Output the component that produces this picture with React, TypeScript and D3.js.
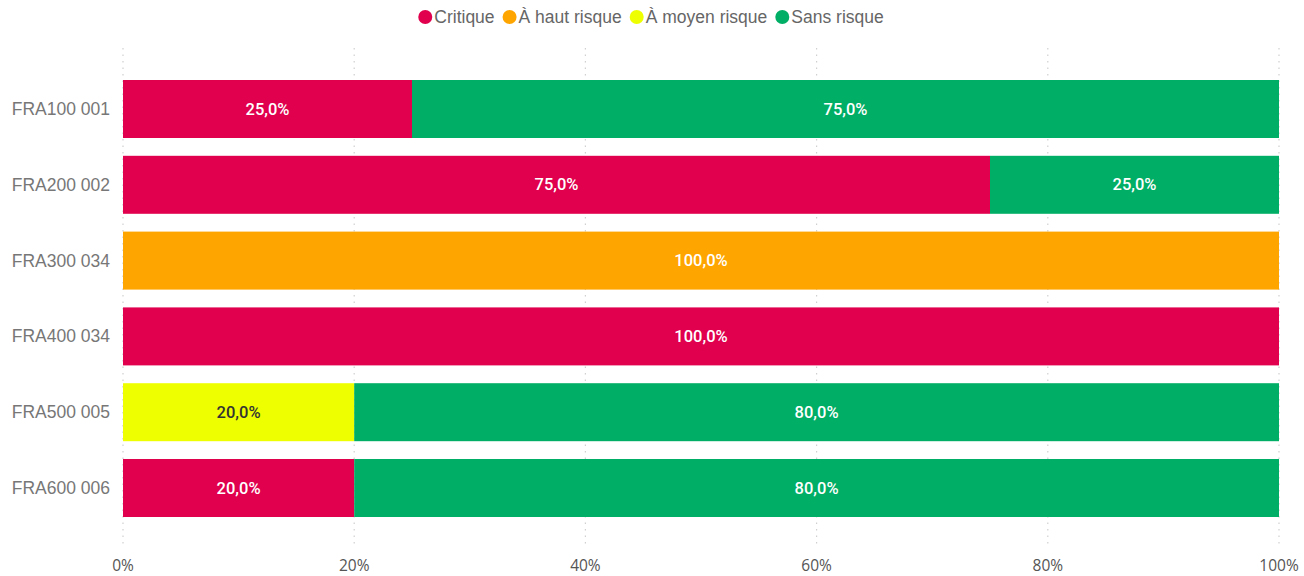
import React, { useEffect, useRef } from "react";
import * as d3 from "d3";

const categories = ["FRA100 001", "FRA200 002", "FRA300 034", "FRA400 034", "FRA500 005", "FRA600 006"];
const seriesNames = ["Critique", "À haut risque", "À moyen risque", "Sans risque"];
const critique = [25, 75, 0, 100, 0, 20];
const hautRisque = [0, 0, 100, 0, 0, 0];
const moyenRisque = [0, 0, 0, 0, 20, 0];
const sansRisque = [75, 25, 0, 0, 80, 80];
const xTicks = [0, 20, 40, 60, 80, 100];
const colors = ["#E0004D", "#FFA500", "#EEFF00", "#00AE65"];
const labelColors = ["#ffffff", "#ffffff", "#333333", "#ffffff"];

const W = 1304;
const H = 576;

export default function App() {
  const ref = useRef<SVGSVGElement | null>(null);

  useEffect(() => {
    const svg = d3.select(ref.current);
    svg.selectAll("*").remove();

    const x = d3.scaleLinear().domain([0, 100]).range([123, 1279]);
    const y = d3.scaleBand<string>().domain(categories).range([71.1, 525.9]).paddingInner(0.235).paddingOuter(0.1175);

    const values = [critique, hautRisque, moyenRisque, sansRisque];
    const rows = categories.map((c, i) => {
      const r: any = { cat: c };
      seriesNames.forEach((s, k) => (r[s] = values[k][i]));
      return r;
    });
    const stacked = d3.stack<any>().keys(seriesNames)(rows);

    const grid = svg.append("g");
    xTicks.forEach((t) => {
      grid
        .append("line")
        .attr("x1", x(t))
        .attr("x2", x(t))
        .attr("y1", 48)
        .attr("y2", 546)
        .attr("stroke", "#d0d0d0")
        .attr("stroke-width", 1.2)
        .attr("stroke-dasharray", "1.5,5");
    });

    stacked.forEach((layer, k) => {
      const g = svg.append("g");
      layer.forEach((d: any) => {
        const w = x(d[1]) - x(d[0]);
        if (w <= 0) return;
        g.append("rect")
          .attr("x", x(d[0]))
          .attr("y", y(d.data.cat)!)
          .attr("width", w)
          .attr("height", y.bandwidth())
          .attr("fill", colors[k]);
        g.append("text")
          .attr("x", (x(d[0]) + x(d[1])) / 2)
          .attr("y", y(d.data.cat)! + y.bandwidth() / 2)
          .attr("text-anchor", "middle")
          .attr("dominant-baseline", "central")
          .attr("fill", labelColors[k])
          .attr("font-family", "Roboto, sans-serif")
          .attr("font-weight", 500)
          .attr("font-size", 16.5)
          .text((d[1] - d[0]).toFixed(1).replace(".", ",") + "%");
      });
    });

    categories.forEach((c) => {
      svg
        .append("text")
        .attr("x", 110)
        .attr("y", y(c)! + y.bandwidth() / 2)
        .attr("text-anchor", "end")
        .attr("dominant-baseline", "central")
        .attr("fill", "#777777")
        .attr("font-family", "'Liberation Sans', Arial, sans-serif")
        .attr("font-size", 17.5)
        .text(c);
    });

    xTicks.forEach((t) => {
      svg
        .append("text")
        .attr("x", x(t))
        .attr("y", 571)
        .attr("text-anchor", "middle")
        .attr("fill", "#555555")
        .attr("font-family", "'Open Sans', sans-serif")
        .attr("font-size", 15.5)
        .text(t + "%");
    });

    const leg = svg.append("g");
    let cx = 0;
    seriesNames.forEach((s, k) => {
      const item = leg.append("g").attr("transform", `translate(${cx},0)`);
      item.append("circle").attr("cx", 7).attr("cy", 0).attr("r", 7).attr("fill", colors[k]);
      const t = item
        .append("text")
        .attr("x", 16)
        .attr("y", 0)
        .attr("dominant-baseline", "central")
        .attr("fill", "#666666")
        .attr("font-family", "'Liberation Sans', Arial, sans-serif")
        .attr("font-size", 17.5)
        .text(s);
      const tw = (t.node() as SVGTextElement).getComputedTextLength();
      cx += 16 + tw + 8;
    });
    const total = cx - 8;
    leg.attr("transform", `translate(${651 - total / 2},17)`);
  }, []);

  return <svg ref={ref} width={W} height={H} style={{ display: "block", position: "absolute", left: 0, top: 0 }} />;
}
